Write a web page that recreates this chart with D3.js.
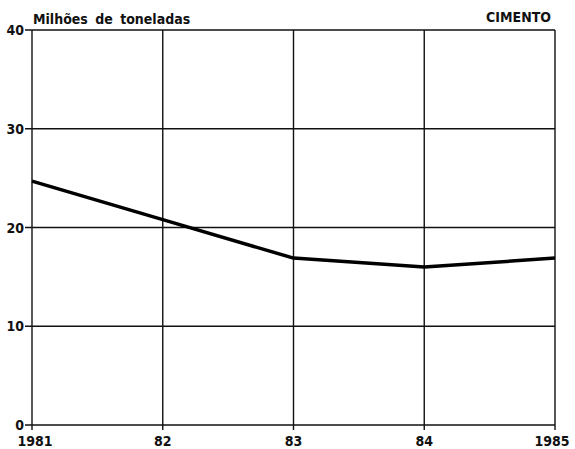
<!DOCTYPE html>
<html><head><meta charset="utf-8">
<script src="https://cdn.jsdelivr.net/npm/d3@7"></script>
<style>body{margin:0;background:#fff}svg{display:block}text{font-family:"Liberation Sans Narrow","DejaVu Sans Condensed",sans-serif;font-weight:bold;fill:#111}</style>
</head><body>
<script>
const years = [1981, 1982, 1983, 1984, 1985];
const yearLabels = ["1981", "82", "83", "84", "1985"];
const values = [24.7, 20.8, 16.9, 16.0, 16.9];
const yTicks = [0, 10, 20, 30, 40];
const unitLabel = "Milhões de toneladas";
const title = "CIMENTO";

const W = 575, H = 449;
const m = {left: 32, right: 20, top: 30, bottom: 24};
const svg = d3.select("body").append("svg").attr("width", W).attr("height", H);
const x = d3.scaleLinear().domain([1981, 1985]).range([m.left, W - m.right]);
const y = d3.scaleLinear().domain([0, 40]).range([H - m.bottom, m.top]);

const g = svg.append("g");
// horizontal grid
g.selectAll(".hg").data(yTicks).join("line")
  .attr("x1", x(1981) - 7).attr("x2", x(1985))
  .attr("y1", d => y(d)).attr("y2", d => y(d))
  .attr("stroke", "#111").attr("stroke-width", 1.4);
// vertical grid
g.selectAll(".vg").data(years).join("line")
  .attr("x1", d => x(d)).attr("x2", d => x(d))
  .attr("y1", y(40)).attr("y2", y(0) + 5)
  .attr("stroke", "#111").attr("stroke-width", 1.4);

// y labels
g.selectAll(".yl").data(yTicks).join("text")
  .attr("x", x(1981) - 8).attr("y", d => y(d) + 5)
  .attr("text-anchor", "end").attr("font-size", 14).text(d => d);
// x labels
g.selectAll(".xl").data(years).join("text")
  .attr("x", (d, i) => x(d) + (i === 0 ? 3 : (i === 4 ? -3 : 0)))
  .attr("y", y(0) + 21)
  .attr("text-anchor", "middle").attr("font-size", 14)
  .text((d, i) => yearLabels[i]);

svg.append("text").attr("x", x(1981) + 1).attr("y", y(40) - 6)
  .attr("font-size", 14).attr("word-spacing", 3).text(unitLabel);
svg.append("text").attr("x", x(1985) - 4).attr("y", y(40) - 8)
  .attr("text-anchor", "end").attr("font-size", 14).text(title);

const line = d3.line().x((d, i) => x(years[i])).y(d => y(d));
svg.append("path").datum(values).attr("d", line)
  .attr("fill", "none").attr("stroke", "#000").attr("stroke-width", 3.5)
  .attr("stroke-linejoin", "round");
</script>
</body></html>
